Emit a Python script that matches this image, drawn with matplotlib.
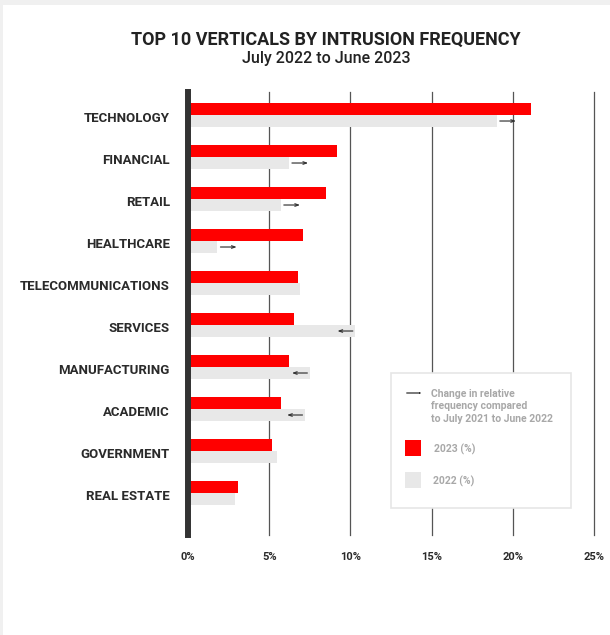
import matplotlib
matplotlib.use("Agg")
import matplotlib.pyplot as plt
from matplotlib.patches import Rectangle, FancyArrowPatch

categories = ["TECHNOLOGY", "FINANCIAL", "RETAIL", "HEALTHCARE", "TELECOMMUNICATIONS",
              "SERVICES", "MANUFACTURING", "ACADEMIC", "GOVERNMENT", "REAL ESTATE"]
values_2023 = [21.1, 9.2, 8.5, 7.1, 6.8, 6.5, 6.2, 5.7, 5.2, 3.1]
values_2022 = [19.0, 6.2, 5.7, 1.8, 6.9, 10.3, 7.5, 7.2, 5.5, 2.9]
# change direction versus previous year's relative frequency: +1 up, -1 down, 0 none
change_dir = [1, 1, 1, 1, 0, -1, -1, -1, 0, 0]
xticks = [0, 5, 10, 15, 20, 25]
xtick_labels = ["0%", "5%", "10%", "15%", "20%", "25%"]

plt.rcParams['font.family'] = ['Roboto', 'DejaVu Sans']

W, H = 610, 635
fig = plt.figure(figsize=(W / 100, H / 100), dpi=100)
fig.patch.set_facecolor("#f0f0f0")
fig.add_artist(Rectangle((3 / W, 0), 1, 1 - 5 / H, transform=fig.transFigure,
                         facecolor="white", edgecolor="none", zorder=-1))

x0, x1 = 188, 594
ytop, ybot = 92, 535
ax = fig.add_axes([x0 / W, 1 - ybot / H, (x1 - x0) / W, (ybot - ytop) / H])
ax.patch.set_visible(False)

n = len(categories)
ax.set_xlim(0, 25)
ax.set_ylim(n - 1 + 1.0, -0.548)

bh = 12 / 42
ys = list(range(n))
ax.barh([y - bh / 2 for y in ys], values_2023, height=bh, color="#ff0000", zorder=2)
ax.barh([y + bh / 2 for y in ys], values_2022, height=bh, color="#e8e8e8", zorder=2)

for t in xticks[1:]:
    ax.axvline(t, color="#555555", lw=0.9, zorder=0, clip_on=False)

astyle = "->,head_length=0.25,head_width=0.09"
for y, v, d in zip(ys, values_2022, change_dir):
    if d > 0:
        start, end = v + 0.2, v + 1.2
    elif d < 0:
        start, end = v - 0.15, v - 1.1
    else:
        continue
    ax.annotate("", xy=(end, y + bh / 2), xytext=(start, y + bh / 2),
                arrowprops=dict(arrowstyle=astyle, color="#333333", lw=0.85,
                                shrinkA=0, shrinkB=0),
                zorder=3)

for s in ["top", "right", "bottom"]:
    ax.spines[s].set_visible(False)
ax.spines["left"].set_linewidth(4.3)
ax.spines["left"].set_color("#333333")
ax.spines["left"].set_zorder(3)

ax.set_yticks([y + 0.05 for y in ys])
ax.set_yticklabels(categories, fontweight="bold", fontsize=9.5, color="#2a2a2a")
ax.tick_params(axis="y", length=0, pad=13)
ax.set_xticks(xticks)
ax.set_xticklabels(xtick_labels, fontweight="bold", fontsize=8, color="#2a2a2a")
ax.tick_params(axis="x", length=0, pad=12)

fig.text(326 / W, 1 - 40 / H, "TOP 10 VERTICALS BY INTRUSION FREQUENCY",
         fontweight="bold", fontsize=13, color="#222222", ha="center", va="center")
fig.text(326 / W, 1 - 59 / H, "July 2022 to June 2023", fontweight="medium",
         fontsize=11.5, color="#222222", ha="center", va="center")

# legend box
lx0, lx1, ly0, ly1 = 390.7, 570.7, 373.3, 508.3
fig.add_artist(Rectangle((lx0 / W, 1 - ly1 / H), (lx1 - lx0) / W, (ly1 - ly0) / H,
                         transform=fig.transFigure, facecolor="white",
                         edgecolor="#e6e6e6", lw=1.2, zorder=2))
fig.add_artist(FancyArrowPatch((406.7 / W, 1 - 393 / H), (421.7 / W, 1 - 393 / H),
                               transform=fig.transFigure, arrowstyle=astyle,
                               color="#222222", lw=0.85, zorder=3, shrinkA=0, shrinkB=0))
legend_lines = ["Change in relative", "frequency compared", "to July 2021 to June 2022"]
for i, line in enumerate(legend_lines):
    fig.text(430.7 / W, 1 - (394 + 12.4 * i) / H, line, fontsize=7.5, fontweight="bold",
             color="#a8a8a8", ha="left", va="center", zorder=4)
fig.add_artist(Rectangle((405 / W, 1 - 456 / H), 16 / W, 16 / H, transform=fig.transFigure,
                         facecolor="#ff0000", edgecolor="none", zorder=3))
fig.add_artist(Rectangle((405 / W, 1 - 488 / H), 16 / W, 16 / H, transform=fig.transFigure,
                         facecolor="#e8e8e8", edgecolor="none", zorder=3))
fig.text(434 / W, 1 - 449.5 / H, "2023 (%)", fontsize=7.5, fontweight="bold", color="#a8a8a8",
         ha="left", va="center", zorder=4)
fig.text(433 / W, 1 - 481 / H, "2022 (%)", fontsize=7.5, fontweight="bold", color="#a8a8a8",
         ha="left", va="center", zorder=4)

fig.savefig("out.png", dpi=100, facecolor=fig.get_facecolor())
